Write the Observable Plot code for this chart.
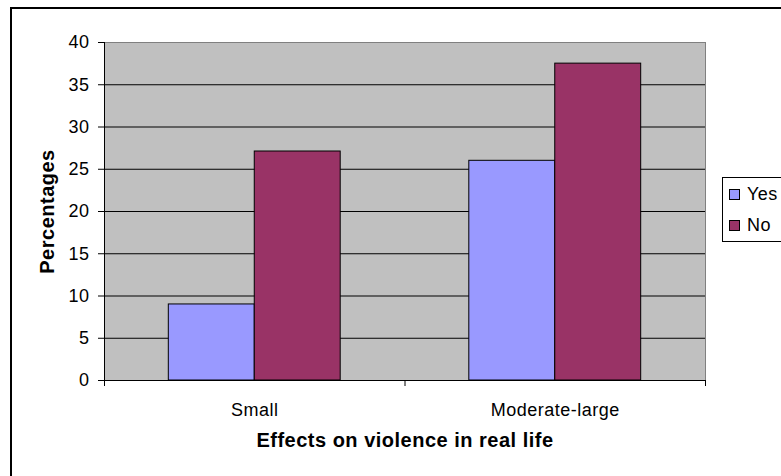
<!DOCTYPE html>
<html>
<head>
<meta charset="utf-8">
<script src="https://cdn.jsdelivr.net/npm/d3@7"></script>
<script src="https://cdn.jsdelivr.net/npm/@observablehq/plot@0.6"></script>
<style>
  body { margin: 0; background: #fff; }
  #chart { position: relative; width: 781px; height: 476px; overflow: hidden;
           font-family: "Liberation Sans", Arial, sans-serif; }
  #border { position: absolute; left: 10px; top: 7px; width: 900px; height: 600px;
            border: 2px solid #000; box-sizing: border-box; }
  #chart svg { position: absolute; left: 0; top: 0; }
  #legend { position: absolute; left: 722px; top: 177px; width: 100px; height: 65px;
            border: 1px solid #000; box-sizing: border-box; background: #fff; }
  .sw { position: absolute; left: 6px; width: 11px; height: 11px; border: 1px solid #000; box-sizing: border-box; }
  .lbl { position: absolute; left: 24px; font-size: 18px; letter-spacing: 0.5px; line-height: 20px; }
</style>
</head>
<body>
<div id="chart"><div id="border"></div></div>
<script>
// Share of respondents by perceived effect size on real-life violence
const categories = ["Small", "Moderate-large"];
const series = ["Yes", "No"];
const yesValues = [9.0, 26.0];
const noValues = [27.1, 37.5];
const yTicks = [0, 5, 10, 15, 20, 25, 30, 35, 40];
const seriesColors = ["#9999FF", "#993366"];

// Each category occupies one unit on x; bars sit side by side around its centre
const barWidth = 0.286;
const rows = [];
categories.forEach((c, i) => {
  rows.push({category: c, series: "Yes", value: yesValues[i], x1: i + 0.5 - barWidth, x2: i + 0.5});
  rows.push({category: c, series: "No", value: noValues[i], x1: i + 0.5, x2: i + 0.5 + barWidth});
});

const chart = Plot.plot({
  width: 781,
  height: 476,
  marginLeft: 104,
  marginRight: 76,
  marginTop: 42,
  marginBottom: 96,
  style: {fontFamily: "'Liberation Sans', Arial, sans-serif", fontSize: "18px", background: "transparent", color: "#000", letterSpacing: "0.5px"},
  x: {domain: [0, categories.length], axis: null},
  y: {domain: [0, 40], axis: null},
  color: {domain: series, range: seriesColors},
  marks: [
    Plot.frame({fill: "#c0c0c0", stroke: "#808080"}),
    Plot.ruleY(yTicks.filter(v => v > 0 && v < 40), {stroke: "#000", strokeWidth: 1}),
    Plot.rectY(rows, {x1: "x1", x2: "x2", y: "value", fill: "series", stroke: "#000", strokeWidth: 1}),
    Plot.ruleX([0], {stroke: "#000"}),
    Plot.ruleY([0], {stroke: "#000"}),
    Plot.axisY(yTicks, {tickSize: 6, tickPadding: 9, fontSize: 18, label: null, stroke: "#000"}),
    Plot.axisX(d3.range(categories.length + 1), {tickSize: 6, tickFormat: () => "", label: null, stroke: "#000"}),
    Plot.text(categories, {x: (d, i) => i + 0.5, y: () => 0, dy: 30, fontSize: 18}),
    Plot.text(["Effects on violence in real life"], {frameAnchor: "bottom", dy: 66, fontSize: 20, fontWeight: "bold", style: "letter-spacing:0.2px"}),
    Plot.text(["Percentages"], {frameAnchor: "left", textAnchor: "middle", dx: -57, rotate: -90, fontSize: 20, fontWeight: "bold"})
  ]
});
document.getElementById("chart").appendChild(chart);

// Legend box on the right
const legend = document.createElement("div");
legend.id = "legend";
series.forEach((s, i) => {
  const sw = document.createElement("div");
  sw.className = "sw";
  sw.style.top = (11 + i * 31) + "px";
  sw.style.background = seriesColors[i];
  const lbl = document.createElement("div");
  lbl.className = "lbl";
  lbl.style.top = (6 + i * 31) + "px";
  lbl.textContent = s;
  legend.appendChild(sw);
  legend.appendChild(lbl);
});
document.getElementById("chart").appendChild(legend);
</script>
</body>
</html>
